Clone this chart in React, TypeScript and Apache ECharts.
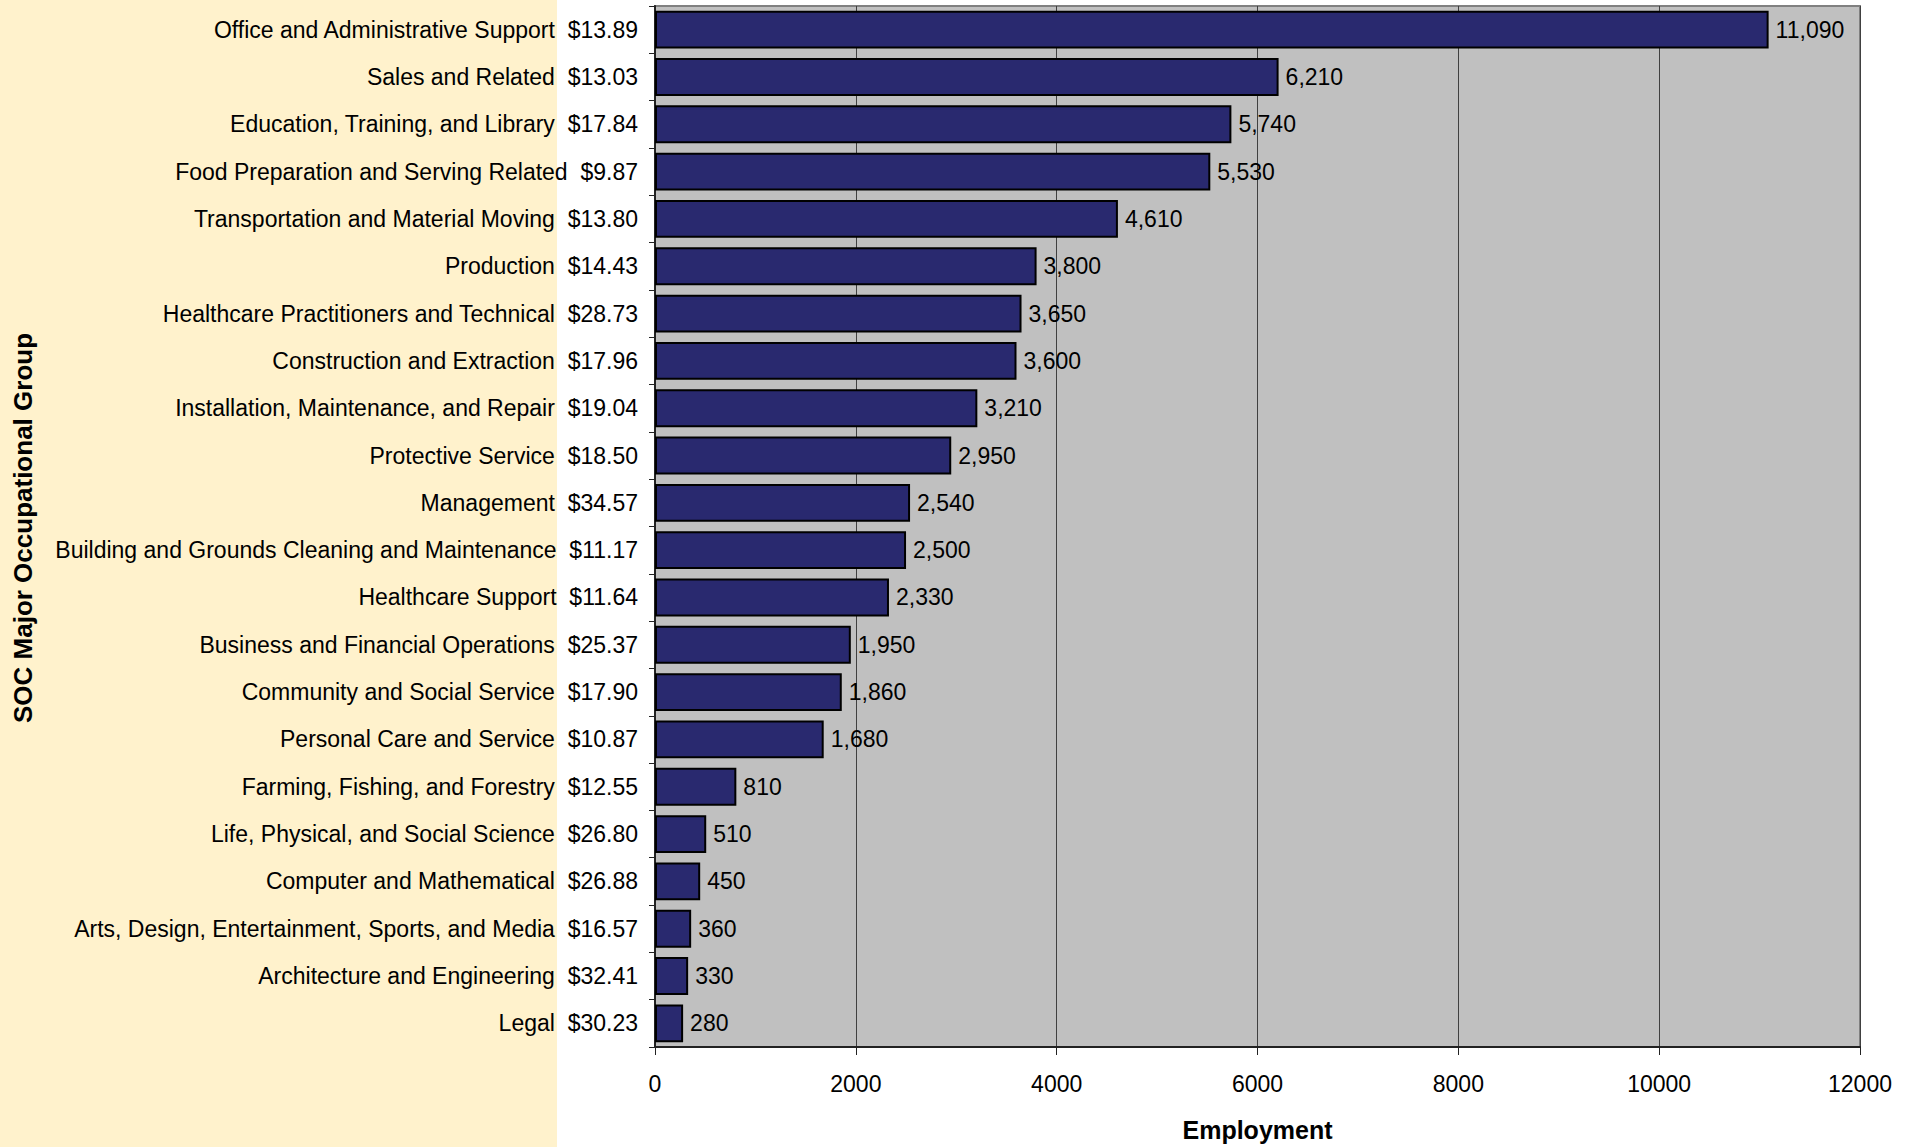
import React, { useEffect, useRef } from "react";
import * as echarts from "echarts";

const categories = [
  "Office and Administrative Support",
  "Sales and Related",
  "Education, Training, and Library",
  "Food Preparation and Serving Related",
  "Transportation and Material Moving",
  "Production",
  "Healthcare Practitioners and Technical",
  "Construction and Extraction",
  "Installation, Maintenance, and Repair",
  "Protective Service",
  "Management",
  "Building and Grounds Cleaning and Maintenance",
  "Healthcare Support",
  "Business and Financial Operations",
  "Community and Social Service",
  "Personal Care and Service",
  "Farming, Fishing, and Forestry",
  "Life, Physical, and Social Science",
  "Computer and Mathematical",
  "Arts, Design, Entertainment, Sports, and Media",
  "Architecture and Engineering",
  "Legal",
];

const wages = [
  "$13.89", "$13.03", "$17.84", "$9.87", "$13.80", "$14.43", "$28.73", "$17.96",
  "$19.04", "$18.50", "$34.57", "$11.17", "$11.64", "$25.37", "$17.90", "$10.87",
  "$12.55", "$26.80", "$26.88", "$16.57", "$32.41", "$30.23",
];

const employment = [
  11090, 6210, 5740, 5530, 4610, 3800, 3650, 3600, 3210, 2950, 2540, 2500, 2330,
  1950, 1860, 1680, 810, 510, 450, 360, 330, 280,
];

const xTicks = { min: 0, max: 12000, interval: 2000 };

const FONT = "'Liberation Sans', Arial, sans-serif";

export default function App() {
  const ref = useRef<HTMLDivElement>(null);
  useEffect(() => {
    document.body.style.margin = "0";
    const chart = echarts.init(ref.current!, null, { renderer: "svg" });
    const labels = categories.map((c, i) => c + "  " + wages[i]);
    chart.setOption({
      animation: false,
      backgroundColor: "#ffffff",
      textStyle: { fontFamily: FONT },
      graphic: [
        {
          type: "rect",
          z: -10,
          shape: { x: 0, y: 0, width: 557, height: 1147 },
          style: { fill: "#FFF2CC" },
        },
        {
          type: "text",
          x: 23,
          y: 528,
          rotation: Math.PI / 2,
          style: {
            text: "SOC Major Occupational Group",
            font: "bold 26px " + FONT,
            fill: "#000",
            align: "center",
            verticalAlign: "middle",
          },
        },
      ],
      grid: {
        left: 655,
        right: 59,
        top: 6,
        bottom: 99,
        show: true,
        backgroundColor: "#C0C0C0",
        borderColor: "#808080",
        borderWidth: 2,
        containLabel: false,
      },
      xAxis: {
        type: "value",
        min: xTicks.min,
        max: xTicks.max,
        interval: xTicks.interval,
        name: "Employment",
        nameLocation: "middle",
        nameGap: 70,
        nameTextStyle: { fontFamily: FONT, fontSize: 25, fontWeight: "bold", color: "#000" },
        axisLine: { show: true, lineStyle: { color: "#222", width: 2 } },
        axisTick: { show: true, inside: false, length: 8, lineStyle: { color: "#222", width: 1 } },
        axisLabel: {
          fontFamily: FONT,
          fontSize: 23,
          color: "#000",
          margin: 25,
          formatter: (v: number) => String(v),
        },
        splitLine: { show: true, lineStyle: { color: "#404040", width: 1 } },
      },
      yAxis: {
        type: "category",
        data: labels,
        inverse: true,
        axisLine: { show: true, lineStyle: { color: "#222", width: 2 } },
        axisTick: { show: true, inside: false, length: 6, lineStyle: { color: "#222", width: 1 } },
        axisLabel: { fontFamily: FONT, fontSize: 23, color: "#000", margin: 17 },
        splitLine: { show: false },
      },
      series: [
        {
          type: "bar",
          data: employment,
          barCategoryGap: "20%",
          itemStyle: { color: "#29296F", borderColor: "#000", borderWidth: 2 },
          label: {
            show: true,
            position: "right",
            distance: 7,
            fontFamily: FONT,
            fontSize: 23,
            color: "#000",
            formatter: (p: any) => Number(p.value).toLocaleString("en-US"),
          },
        },
      ],
    });
    return () => chart.dispose();
  }, []);
  return (
    <div
      ref={ref}
      style={{ position: "absolute", left: 0, top: 0, width: 1919, height: 1147 }}
    />
  );
}
